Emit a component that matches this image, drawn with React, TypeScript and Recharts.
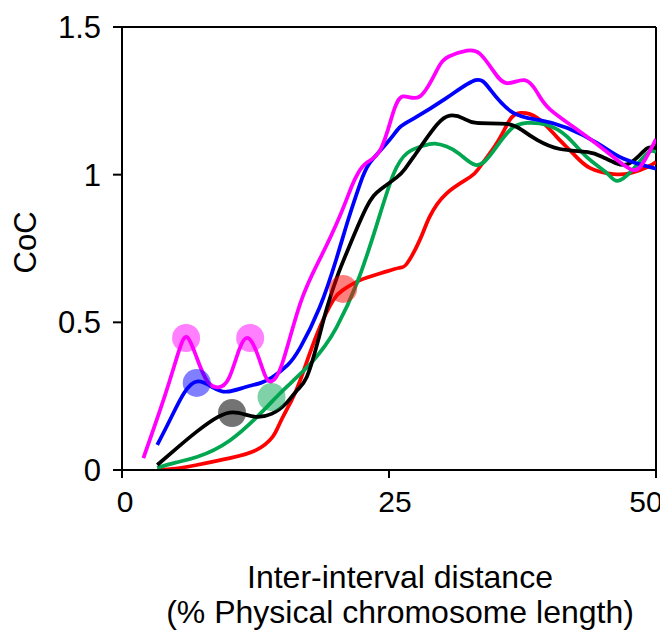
import React from "react";
import {
  ComposedChart,
  Line,
  Scatter,
  XAxis,
  YAxis,
  ReferenceLine,
  Label,
} from "recharts";

// [x (% physical chromosome length), CoC]
const magentaSeries: [number, number][] = [
  [2.0, 0.04], [4.0, 0.25], [5.3, 0.4], [6.1, 0.45], [7.0, 0.38], [8.0, 0.3],
  [9.0, 0.28], [10.0, 0.31], [11.0, 0.41], [11.8, 0.447], [12.6, 0.4],
  [13.4, 0.32], [14.0, 0.3], [15.0, 0.36], [16.7, 0.565], [18.6, 0.72],
  [20.4, 0.86], [21.5, 0.96], [22.1, 1.005], [22.9, 1.04], [24.2, 1.085],
  [25.3, 1.2], [26.3, 1.265], [27.9, 1.265], [29.5, 1.355], [30.6, 1.4],
  [32.3, 1.42], [33.5, 1.41], [34.7, 1.355], [36.0, 1.31], [37.7, 1.32],
  [38.9, 1.277], [40.1, 1.22], [42.9, 1.145], [46.0, 1.06], [47.8, 1.016],
  [48.8, 1.04], [50.0, 1.12],
];

const blueSeries: [number, number][] = [
  [3.3, 0.085], [4.5, 0.17], [5.8, 0.26], [7.1, 0.3], [8.5, 0.28],
  [9.8, 0.265], [11.5, 0.28], [13.0, 0.295], [14.1, 0.315], [15.5, 0.355],
  [16.7, 0.415], [18.5, 0.55], [20.1, 0.718], [21.2, 0.85], [22.3, 0.97],
  [23.2, 1.04], [24.8, 1.107], [26.0, 1.16], [27.3, 1.19], [30.4, 1.26],
  [33.1, 1.32], [34.5, 1.287], [36.6, 1.21], [39.1, 1.185], [41.7, 1.158],
  [44.5, 1.107], [46.6, 1.06], [48.5, 1.035], [50.0, 1.02],
];

const blackSeries: [number, number][] = [
  [3.3, 0.017], [5.0, 0.07], [7.0, 0.13], [9.0, 0.18], [10.4, 0.195],
  [11.5, 0.188], [12.6, 0.18], [14.0, 0.19], [15.4, 0.227], [16.4, 0.27],
  [17.3, 0.315], [18.3, 0.43], [19.2, 0.55], [20.2, 0.66], [21.2, 0.75],
  [22.9, 0.89], [24.2, 0.95], [25.7, 0.99], [26.5, 1.02], [27.3, 1.06],
  [28.2, 1.107], [29.5, 1.17], [30.7, 1.2], [32.0, 1.19], [33.2, 1.175],
  [36.0, 1.172], [37.5, 1.15], [38.9, 1.117], [41.0, 1.087], [43.5, 1.077],
  [45.0, 1.06], [46.3, 1.038], [47.3, 1.035], [48.3, 1.06], [49.2, 1.09],
  [50.0, 1.09],
];

const greenSeries: [number, number][] = [
  [3.3, 0.007], [5.0, 0.025], [7.0, 0.044], [10.1, 0.1], [13.2, 0.2],
  [14.8, 0.26], [16.4, 0.315], [17.9, 0.37], [19.0, 0.42], [20.1, 0.484],
  [22.0, 0.633], [23.9, 0.836], [25.4, 1.0], [26.7, 1.073], [28.2, 1.098],
  [29.3, 1.105], [30.4, 1.095], [31.6, 1.07], [33.1, 1.033], [34.5, 1.067],
  [36.3, 1.15], [37.9, 1.175], [39.8, 1.168], [41.7, 1.128], [43.5, 1.06],
  [45.4, 1.005], [46.4, 0.979], [47.8, 1.016], [49.2, 1.073], [50.0, 1.077],
];

const redSeries: [number, number][] = [
  [3.3, 0.0], [5.0, 0.005], [7.0, 0.017], [10.1, 0.04], [12.6, 0.068],
  [14.1, 0.112], [14.8, 0.16], [15.8, 0.23], [16.7, 0.305], [18.3, 0.464],
  [19.8, 0.576], [20.7, 0.61], [22.3, 0.643], [24.3, 0.667], [25.9, 0.684],
  [26.7, 0.7], [27.9, 0.78], [28.8, 0.857], [30.4, 0.937], [32.6, 0.992],
  [33.5, 1.026], [35.1, 1.107], [36.3, 1.185], [37.3, 1.209], [38.9, 1.192],
  [40.7, 1.128], [42.2, 1.073], [43.8, 1.023], [46.0, 1.002], [47.6, 1.005],
  [49.2, 1.026], [50.0, 1.043],
];

const magentaMarks: [number, number][] = [[6.0, 0.447], [12.0, 0.447]];
const blueMarks: [number, number][] = [[7.0, 0.295]];
const blackMarks: [number, number][] = [[10.3, 0.193]];
const greenMarks: [number, number][] = [[14.0, 0.247]];
const redMarks: [number, number][] = [[20.7, 0.613]];

const xTicks = [0, 25, 50];
const yTicks = [0, 0.5, 1, 1.5];
const xTitle = ["Inter-interval distance", "(% Physical chromosome length)"];
const yTitle = "CoC";

const toData = (pts: [number, number][]) => pts.map(([x, y]) => ({ x, y }));

const FONT = "'Liberation Sans', Arial, sans-serif";

const lines = [
  { key: "red", pts: redSeries, color: "#FF0000" },
  { key: "green", pts: greenSeries, color: "#00A650" },
  { key: "black", pts: blackSeries, color: "#000000" },
  { key: "blue", pts: blueSeries, color: "#0000FF" },
  { key: "magenta", pts: magentaSeries, color: "#FF00FF" },
];

const marks = [
  { key: "mm", pts: magentaMarks, color: "#FF00FF", op: 0.5 },
  { key: "bm", pts: blueMarks, color: "#0000FF", op: 0.5 },
  { key: "km", pts: blackMarks, color: "#000000", op: 0.55 },
  { key: "gm", pts: greenMarks, color: "#00A650", op: 0.5 },
  { key: "rm", pts: redMarks, color: "#FF0000", op: 0.5 },
];

const tickShift: Record<number, number> = { 0: 3, 25: 6, 50: -10 };

const XTick = (props: any) => {
  const { x, y, payload } = props;
  const v = payload.value;
  return (
    <text
      x={x + (tickShift[v] || 0)}
      y={y}
      dy="0.71em"
      textAnchor="middle"
      fontSize={30}
      fontFamily={FONT}
      fill="#000"
    >
      {v}
    </text>
  );
};

const XTitle = (props: any) => {
  const vb = props.viewBox || { x: 114, y: 462, width: 534, height: 162 };
  const cx = vb.x + vb.width / 2 + 11;
  return (
    <g>
      <text x={cx} y={vb.y + 107} dy="0.35em" textAnchor="middle" fontSize={32} fontFamily={FONT} fill="#000">
        {xTitle[0]}
      </text>
      <text x={cx} y={vb.y + 142} dy="0.35em" textAnchor="middle" fontSize={32} fontFamily={FONT} fill="#000">
        {xTitle[1]}
      </text>
    </g>
  );
};

const YTitle = (props: any) => {
  const vb = props.viewBox || { x: 0, y: 19, width: 114, height: 443 };
  const cx = vb.x + 17;
  const cy = vb.y + vb.height / 2 - 6;
  return (
    <text
      x={cx}
      y={cy}
      dy="0.35em"
      textAnchor="middle"
      fontSize={31}
      fontFamily={FONT}
      fill="#000"
      transform={`rotate(-90 ${cx} ${cy})`}
    >
      {yTitle}
    </text>
  );
};

export default function App() {
  return (
    <div style={{ width: 660, height: 624 }}>
      <ComposedChart width={660} height={624} margin={{ top: 19, right: 12, bottom: 0, left: 0 }}>
        <XAxis
          type="number"
          dataKey="x"
          domain={[0, 50]}
          ticks={xTicks}
          allowDataOverflow
          height={162}
          tickSize={8}
          tickMargin={13}
          axisLine={{ stroke: "#000", strokeWidth: 2 }}
          tickLine={{ stroke: "#000", strokeWidth: 2 }}
          tick={<XTick />}
        >
          <Label content={<XTitle />} />
        </XAxis>
        <YAxis
          type="number"
          dataKey="y"
          domain={[0, 1.5]}
          ticks={yTicks}
          allowDataOverflow
          width={114}
          tickSize={9}
          tickMargin={12}
          axisLine={{ stroke: "#000", strokeWidth: 2 }}
          tickLine={{ stroke: "#000", strokeWidth: 2 }}
          tick={{ fill: "#000", fontSize: 31, fontFamily: FONT }}
        >
          <Label content={<YTitle />} />
        </YAxis>
        <ReferenceLine y={1.5} stroke="#000" strokeWidth={2} />
        <ReferenceLine x={50} stroke="#000" strokeWidth={2} />
        {marks.map((m) => (
          <Scatter
            key={m.key}
            data={toData(m.pts)}
            dataKey="y"
            isAnimationActive={false}
            shape={(p: any) => (
              <circle cx={p.cx} cy={p.cy} r={14} fill={m.color} fillOpacity={m.op} />
            )}
          />
        ))}
        {lines.map((l) => (
          <Line
            key={l.key}
            data={toData(l.pts)}
            dataKey="y"
            type="natural"
            stroke={l.color}
            strokeWidth={3.75}
            dot={false}
            activeDot={false}
            isAnimationActive={false}
          />
        ))}
      </ComposedChart>
    </div>
  );
}
